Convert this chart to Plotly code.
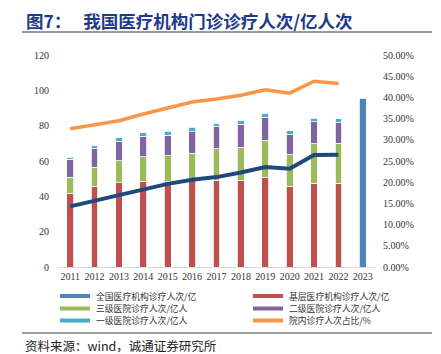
import plotly.graph_objects as go

years = ["2011", "2012", "2013", "2014", "2015", "2016", "2017", "2018", "2019", "2020", "2021", "2022", "2023"]
national = [None] * 12 + [95.5]
primary = [41.8, 45.5, 47.8, 48.4, 48.3, 49.0, 49.2, 48.9, 50.6, 45.5, 47.5, 47.5, None]
tier3 = [9.1, 11.0, 12.4, 13.9, 14.6, 15.4, 17.6, 18.9, 20.8, 17.9, 22.2, 22.6, None]
tier2 = [10.1, 10.5, 11.0, 11.7, 11.8, 12.3, 12.5, 13.0, 13.1, 11.7, 12.6, 11.6, None]
tier1 = [1.2, 1.7, 1.9, 1.9, 2.1, 2.3, 2.2, 2.0, 2.5, 1.9, 1.9, 2.1, None]
hosp_share = [32.6, 33.6, 34.5, 36.1, 37.4, 38.9, 39.6, 40.5, 41.8, 41.0, 43.8, 43.3, None]
tier3_share = [14.3, 15.6, 16.9, 18.3, 19.6, 20.6, 21.2, 22.3, 23.6, 23.2, 26.4, 26.5, None]

left_ticks = [0, 20, 40, 60, 80, 100, 120]
right_ticks = [0, 5, 10, 15, 20, 25, 30, 35, 40, 45, 50]

names = ["全国医疗机构诊疗人次/亿", "基层医疗机构诊疗人次/亿", "三级医院诊疗人次/亿人",
         "二级医院诊疗人次/亿人", "一级医院诊疗人次/亿人", "院内诊疗人次占比/%"]
colors = ["#4F81BD", "#C0504D", "#9BBB59", "#8064A2", "#4BACC6", "#F79646"]
NAVY = "#1F497D"

W, H = 441, 354
L, R, T, B = 58, 66, 55, 87

fig = go.Figure()
for vals, nm, col in [(national, names[0], colors[0]), (primary, names[1], colors[1]),
                      (tier3, names[2], colors[2]), (tier2, names[3], colors[3]),
                      (tier1, names[4], colors[4])]:
    fig.add_trace(go.Bar(x=years, y=vals, name=nm, marker=dict(color=col, line=dict(color="white", width=0.8)),
                         width=0.28, showlegend=False))

fig.add_trace(go.Scatter(x=years, y=hosp_share, name=names[5], mode="lines", yaxis="y2",
                         line=dict(color=colors[5], width=3.5), showlegend=False))
fig.add_trace(go.Scatter(x=years, y=tier3_share, name="三级医院占比", mode="lines", yaxis="y2",
                         line=dict(color=NAVY, width=4), showlegend=False))

pw = W - L - R
ph = H - T - B


def px(x):
    return (x - L) / pw


def py(y):
    return (H - B - y) / ph


shapes = []
annotations = []
tick_font = dict(family="Liberation Serif", size=10, color="#333")

# Manual legend
rows = [296, 308.5, 320.5]
cols = [(60, 90, 95), (253, 283, 288)]
for i, (nm, col) in enumerate(zip(names, colors)):
    r, c = divmod(i, 2)
    x0, x1, xt = cols[c]
    yy = rows[r]
    shapes.append(dict(type="line", xref="paper", yref="paper", x0=px(x0), x1=px(x1), y0=py(yy), y1=py(yy),
                       line=dict(color=col, width=4)))
    annotations.append(dict(text=nm, xref="paper", yref="paper", x=px(xt), y=py(yy), xanchor="left",
                            yanchor="middle", showarrow=False, borderpad=0,
                            font=dict(family="Noto Sans CJK SC", size=8.8, color="#333")))

# Title and rules
annotations.append(dict(text="<b>图7：   我国医疗机构门诊诊疗人次/亿人次</b>", xref="paper", yref="paper",
                        x=px(24), y=py(20), xanchor="left", yanchor="middle", showarrow=False,
                        font=dict(family="Noto Sans CJK SC", size=17.5, color="#1F3A8A")))
shapes.append(dict(type="line", xref="paper", yref="paper", x0=px(22), x1=px(432), y0=py(32), y1=py(32),
                   line=dict(color="#9A9A9A", width=2)))
shapes.append(dict(type="line", xref="paper", yref="paper", x0=px(22), x1=px(432), y0=py(333), y1=py(333),
                   line=dict(color="#444", width=1.2)))
annotations.append(dict(text="资料来源：wind，诚通证券研究所", xref="paper", yref="paper",
                        x=px(24), y=py(345), xanchor="left", yanchor="middle", showarrow=False, borderpad=0,
                        font=dict(family="Noto Sans CJK SC", size=12.5, color="#222")))

fig.update_layout(
    width=W, height=H, margin=dict(l=L, r=R, t=T, b=B),
    paper_bgcolor="white", plot_bgcolor="white",
    barmode="stack", showlegend=False,
    xaxis=dict(type="category", range=[-0.5, 12.5], showline=True, linecolor="#D9D9D9", linewidth=1,
               ticks="", tickfont=tick_font, showgrid=False, fixedrange=True),
    yaxis=dict(range=[0, 120], tickvals=left_ticks, showgrid=False, zeroline=False, showline=False,
               ticks="outside", ticklen=6, tickcolor="white", tickfont=tick_font),
    yaxis2=dict(range=[0, 50], overlaying="y", side="right", tickvals=right_ticks,
                ticktext=[f"{v:.2f}%" for v in right_ticks], showgrid=False, zeroline=False,
                ticks="outside", ticklen=5, tickcolor="white", tickfont=tick_font),
    shapes=shapes, annotations=annotations,
)

fig.write_html("out.html")
